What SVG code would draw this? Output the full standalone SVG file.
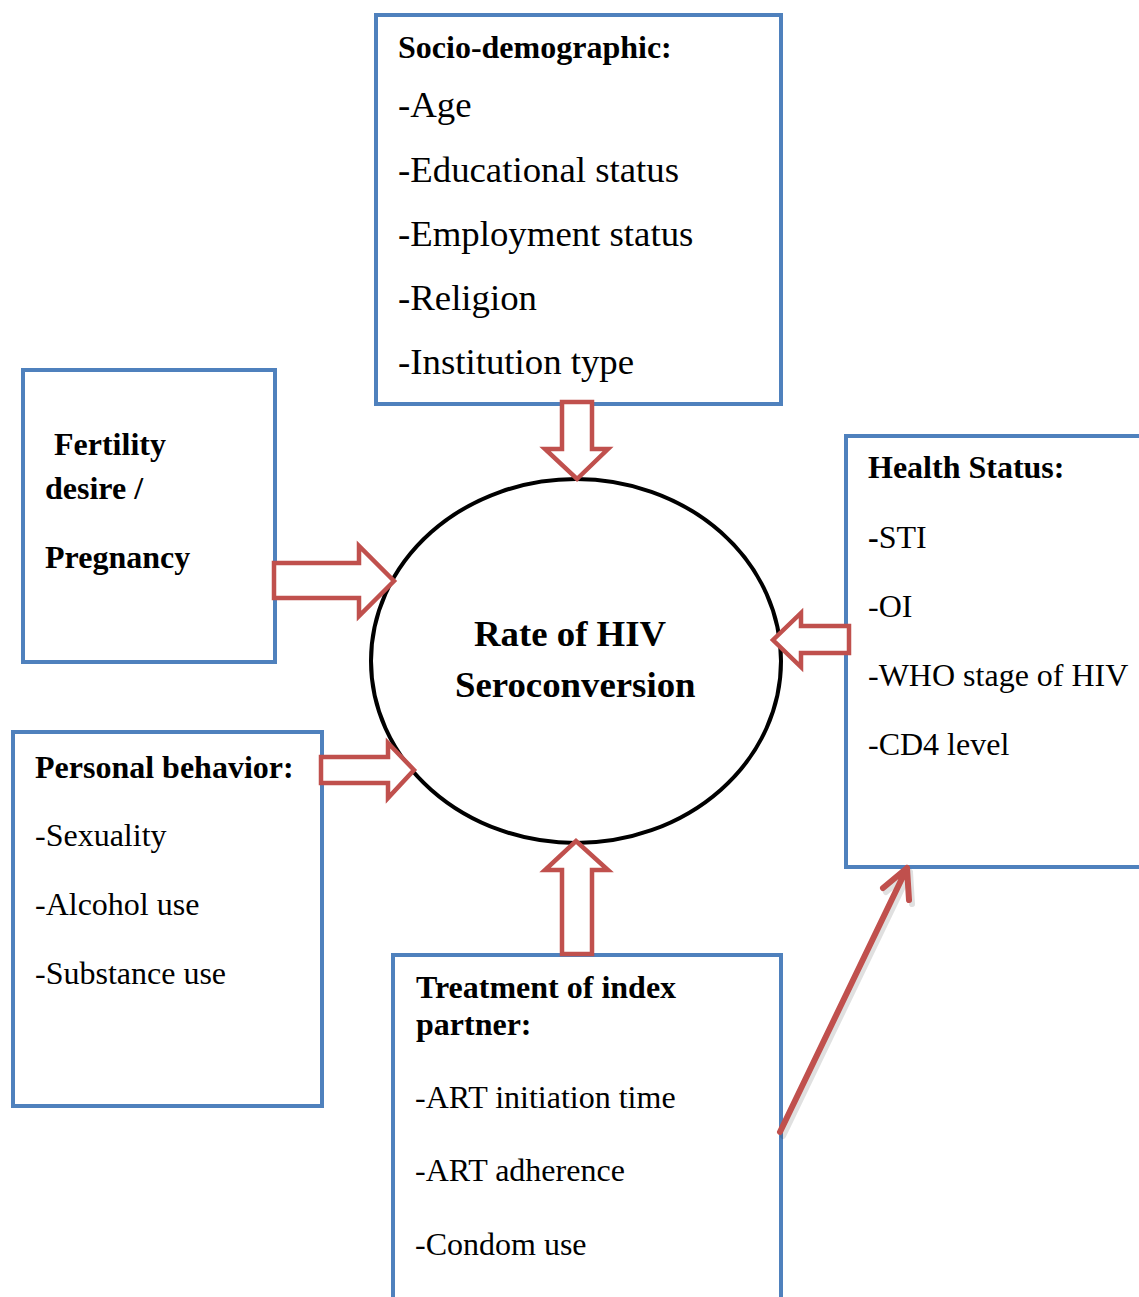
<svg xmlns="http://www.w3.org/2000/svg" width="1139" height="1297" viewBox="0 0 1139 1297">
<style>
.box{fill:#fff;stroke:#4F81BD;stroke-width:4}
.blk{fill:#fff;stroke:#C0504D;stroke-width:4.5;stroke-linejoin:miter}
.h{font-family:"Liberation Serif","Times New Roman",serif;font-weight:bold;font-size:32px;fill:#000}
.t{font-family:"Liberation Serif","Times New Roman",serif;font-size:32px;fill:#000}
.tl{font-family:"Liberation Serif","Times New Roman",serif;font-size:36.8px;fill:#000}
.c{font-family:"Liberation Serif","Times New Roman",serif;font-weight:bold;font-size:36.8px;fill:#000}
</style>
<rect width="1139" height="1297" fill="#fff"/>
<g id="socio">
<rect class="box" x="376" y="15" width="405" height="389"/>
<text class="h" x="398" y="58">Socio-demographic:</text>
<text class="tl" x="398" y="117">-Age</text>
<text class="tl" x="398" y="182">-Educational status</text>
<text class="tl" x="398" y="246">-Employment status</text>
<text class="tl" x="398" y="310">-Religion</text>
<text class="tl" x="398" y="374">-Institution type</text>
</g>
<g id="fertility">
<rect class="box" x="23" y="370" width="252" height="292"/>
<text class="h" x="54" y="455">Fertility</text>
<text class="h" x="45" y="499">desire /</text>
<text class="h" x="45" y="568">Pregnancy</text>
</g>
<g id="personal">
<rect class="box" x="13" y="732" width="309" height="374"/>
<text class="h" x="35" y="778">Personal behavior:</text>
<text class="t" x="35" y="846">-Sexuality</text>
<text class="t" x="35" y="915">-Alcohol use</text>
<text class="t" x="35" y="984">-Substance use</text>
</g>
<g id="treatment">
<rect class="box" x="393" y="955" width="388" height="380"/>
<text class="h" x="416" y="998">Treatment of index</text>
<text class="h" x="416" y="1035">partner:</text>
<text class="t" x="415" y="1108">-ART initiation time</text>
<text class="t" x="415" y="1181">-ART adherence</text>
<text class="t" x="415" y="1255">-Condom use</text>
</g>
<g id="health">
<rect class="box" x="846" y="436" width="320" height="431"/>
<text class="h" x="868" y="478">Health Status:</text>
<text class="t" x="868" y="548"><tspan font-weight="bold">-</tspan>STI</text>
<text class="t" x="868" y="617">-OI</text>
<text class="t" x="868" y="686">-WHO stage of HIV</text>
<text class="t" x="868" y="755">-CD4 level</text>
</g>
<g id="center">
<ellipse cx="576" cy="661" rx="205" ry="182" fill="#fff" stroke="#000" stroke-width="4"/>
<text class="c" x="474" y="646">Rate of HIV</text>
<text class="c" x="455" y="697">Seroconversion</text>
</g>
<g id="connectors">
<polygon class="blk" points="562,402 592,402 592,449 608,449 577,479 545,449 562,449"/>
<polygon class="blk" points="274,563 359,563 359,546 394,581 359,616 359,598 274,598"/>
<polygon class="blk" points="849,626 801,626 801,613 773,640 801,667 801,653 849,653"/>
<polygon class="blk" points="321,757 388,757 388,743 414,770 388,798 388,783 321,783"/>
<polygon class="blk" points="562,954 562,870 545,870 576,841 608,870 592,870 592,954"/>
<g fill="none" stroke-linecap="round" stroke-linejoin="round" stroke-width="6">
<path d="M782,1134 L909,870 M885,890 L909,870 L911,902" stroke="#000" stroke-opacity="0.12" transform="translate(1,2)"/>
<path d="M780,1132 L907,868 M883,888 L907,868 L909,900" stroke="#C0504D"/>
</g>
</g>
</svg>
